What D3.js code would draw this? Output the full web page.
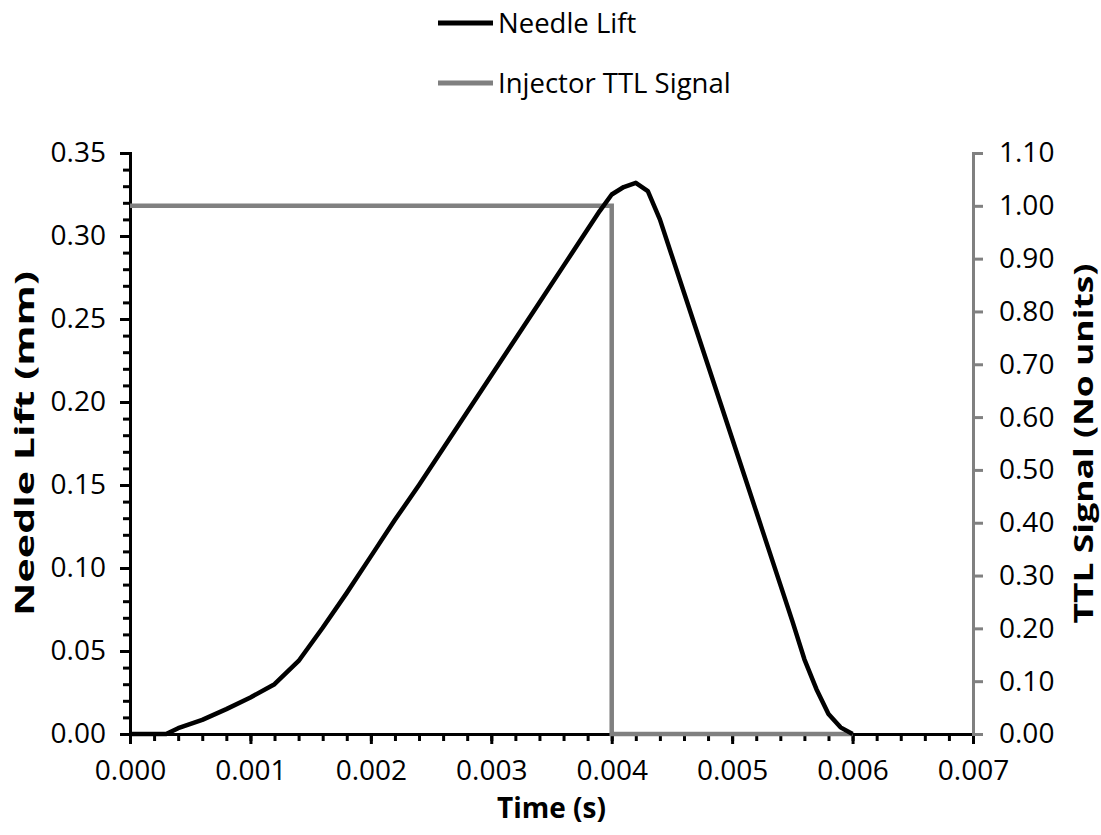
<!DOCTYPE html>
<html>
<head>
<meta charset="utf-8">
<script src="https://cdn.jsdelivr.net/npm/d3@7"></script>
<style>
body { margin: 0; background: #fff; }
text { font-family: "Open Sans", sans-serif; fill: #000; }
</style>
</head>
<body>
<script>
// needle lift (time in s, lift in mm)
var liftTime = [0, 0.0001, 0.0002, 0.0003, 0.0004, 0.0006, 0.0008, 0.0010, 0.0012, 0.0014,
    0.0016, 0.0018, 0.0020, 0.0022, 0.0024, 0.0026, 0.0028, 0.0030, 0.0032, 0.0034,
    0.0036, 0.0038, 0.0039, 0.0040, 0.0041, 0.0042, 0.0043, 0.0044, 0.0045, 0.0046,
    0.0047, 0.0048, 0.0049, 0.0050, 0.0051, 0.0052, 0.0053, 0.0054, 0.0055, 0.0056,
    0.0057, 0.0058, 0.0059, 0.0060];
var liftValue = [0, 0, 0, 0, 0.0035, 0.0085, 0.015, 0.022, 0.030, 0.044,
    0.064, 0.085, 0.107, 0.129, 0.150, 0.172, 0.194, 0.216, 0.238, 0.260,
    0.282, 0.304, 0.315, 0.325, 0.3295, 0.332, 0.327, 0.310, 0.288, 0.266,
    0.244, 0.222, 0.200, 0.178, 0.156, 0.134, 0.112, 0.090, 0.068, 0.045,
    0.027, 0.012, 0.004, 0];

// injector TTL signal
var ttlTime = [0, 0.004, 0.004, 0.006];
var ttlValue = [1, 1, 0, 0];

var xTicks = [0, 0.001, 0.002, 0.003, 0.004, 0.005, 0.006, 0.007];
var yLeftTicks = [0, 0.05, 0.10, 0.15, 0.20, 0.25, 0.30, 0.35];
var yRightTicks = [0, 0.1, 0.2, 0.3, 0.4, 0.5, 0.6, 0.7, 0.8, 0.9, 1.0, 1.1];

var seriesNames = ["Needle Lift", "Injector TTL Signal"];
var seriesColors = ["#000000", "#808080"];

(function () {

var width = 1101,
    height = 835,
    plotLeft = 130,
    plotRight = 973,
    plotTop = 153,
    plotBottom = 734;

var x = d3.scaleLinear().domain([0, 0.007]).range([plotLeft, plotRight]),
    yL = d3.scaleLinear().domain([0, 0.35]).range([plotBottom, plotTop]),
    yR = d3.scaleLinear().domain([0, 1.1]).range([plotBottom, plotTop]);

var svg = d3.select("body").append("svg")
    .attr("width", width)
    .attr("height", height);

// minor ticks first, majors on top
var xMinor = d3.range(0, 0.00701, 0.0002);
var yMinor = d3.range(0, 0.3501, 0.01);

svg.append("g")
    .attr("transform", "translate(0," + plotBottom + ")")
    .call(d3.axisBottom(x).tickValues(xMinor).tickSize(7).tickFormat(""))
    .call(styleAxis, "#000");

svg.append("g")
    .attr("transform", "translate(" + plotLeft + ",0)")
    .call(d3.axisLeft(yL).tickValues(yMinor).tickSize(7).tickFormat(""))
    .call(styleAxis, "#000");

svg.append("g")
    .attr("transform", "translate(0," + plotBottom + ")")
    .call(d3.axisBottom(x).tickValues(xTicks).tickSize(10).tickPadding(16)
        .tickFormat(d3.format(".3f")))
    .call(styleAxis, "#000");

svg.append("g")
    .attr("transform", "translate(" + plotLeft + ",0)")
    .call(d3.axisLeft(yL).tickValues(yLeftTicks).tickSize(10).tickPadding(14)
        .tickFormat(d3.format(".2f")))
    .call(styleAxis, "#000");

svg.append("g")
    .attr("transform", "translate(" + plotRight + ",0)")
    .call(d3.axisRight(yR).tickValues(yRightTicks).tickSize(10).tickPadding(16)
        .tickFormat(d3.format(".2f")))
    .call(styleAxis, "#808080");

function styleAxis(g, color) {
    g.select(".domain").attr("stroke", color).attr("stroke-width", 3);
    g.selectAll(".tick line").attr("stroke", color).attr("stroke-width", 3);
    g.selectAll(".tick text")
        .attr("fill", "#000")
        .style("font-size", "28px");
}

// series
var ttlLine = d3.line()
    .x(function (d) { return x(d[0]); })
    .y(function (d) { return yR(d[1]); });

var liftLine = d3.line()
    .x(function (d) { return x(d[0]); })
    .y(function (d) { return yL(d[1]); });

svg.append("path")
    .datum(d3.zip(ttlTime, ttlValue))
    .attr("d", ttlLine)
    .attr("fill", "none")
    .attr("stroke", seriesColors[1])
    .attr("stroke-width", 4.5);

svg.append("path")
    .datum(d3.zip(liftTime, liftValue))
    .attr("d", liftLine)
    .attr("fill", "none")
    .attr("stroke", seriesColors[0])
    .attr("stroke-width", 4.5)
    .attr("stroke-linejoin", "round");

// axis titles
svg.append("text")
    .attr("x", (plotLeft + plotRight) / 2)
    .attr("y", 818)
    .attr("text-anchor", "middle")
    .style("font-size", "28px")
    .style("font-weight", "bold")
    .text("Time (s)");

svg.append("text")
    .attr("transform", "translate(34," + (plotTop + plotBottom) / 2 + ") rotate(-90)")
    .attr("text-anchor", "middle")
    .attr("textLength", 345)
    .attr("lengthAdjust", "spacingAndGlyphs")
    .style("font-size", "27px")
    .style("font-weight", "bold")
    .text("Needle Lift (mm)");

svg.append("text")
    .attr("transform", "translate(1093," + (plotTop + plotBottom) / 2 + ") rotate(-90)")
    .attr("text-anchor", "middle")
    .attr("textLength", 360)
    .attr("lengthAdjust", "spacingAndGlyphs")
    .style("font-size", "27px")
    .style("font-weight", "bold")
    .text("TTL Signal (No units)");

// legend
var legend = svg.selectAll(".legend")
    .data(seriesNames)
    .enter().append("g")
    .attr("class", "legend")
    .attr("transform", function (d, i) { return "translate(438," + (23 + i * 60) + ")"; });

legend.append("line")
    .attr("x1", 0).attr("x2", 55)
    .attr("stroke", function (d, i) { return seriesColors[i]; })
    .attr("stroke-width", 5);

legend.append("text")
    .attr("x", 60)
    .attr("dy", "0.35em")
    .style("font-size", "27.5px")
    .text(function (d) { return d; });

})();
</script>
</body>
</html>
